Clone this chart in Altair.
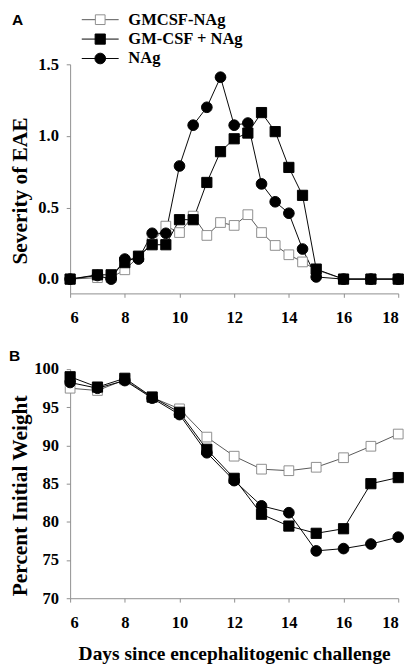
import altair as alt
import pandas as pd

groups = ["GMCSF-NAg", "GM-CSF + NAg", "NAg"]
legend_rows = [0, 1, 2]
panel_labels = ["A", "B"]

days_a = [6, 7, 7.5, 8, 8.5, 9, 9.5, 10, 10.5, 11, 11.5, 12, 12.5, 13, 13.5, 14, 14.5, 15, 16, 17, 18]
eae_gmcsf_nag = [0, 0.01, 0.01, 0.065, 0.155, 0.255, 0.37, 0.325, 0.44, 0.305, 0.395, 0.375,
                 0.45, 0.325, 0.235, 0.17, 0.12, 0.065, 0, 0, 0]
eae_gm_csf_plus_nag = [0, 0.03, 0.03, 0.115, 0.16, 0.24, 0.24, 0.415, 0.415, 0.675, 0.89, 0.98,
                       1.02, 1.163, 1.03, 0.78, 0.585, 0.07, 0, 0, 0]
eae_nag = [0, 0.025, 0, 0.14, 0.14, 0.32, 0.32, 0.79, 1.075, 1.2, 1.41, 1.075,
           1.09, 0.665, 0.54, 0.46, 0.21, 0.015, 0, 0, 0]

days_b = [6, 7, 8, 9, 10, 11, 12, 13, 14, 15, 16, 17, 18]
wt_gmcsf_nag = [97.5, 97.2, 98.6, 96.3, 94.8, 91.1, 88.6, 86.9, 86.7, 87.15, 88.4, 89.9, 91.5]
wt_gm_csf_plus_nag = [99.0, 97.65, 98.8, 96.35, 94.35, 89.5, 85.7, 81.0, 79.45, 78.5, 79.1, 85.0, 85.8]
wt_nag = [98.25, 97.5, 98.5, 96.2, 94.05, 89.05, 85.4, 82.1, 81.2, 76.2, 76.5, 77.1, 78.0]

x_ticks = [6, 8, 10, 12, 14, 16, 18]
eae_ticks = [0, 0.5, 1.0, 1.5]
wt_ticks = [70, 75, 80, 85, 90, 95, 100]


def long_df(days, series):
    rows = []
    for g, vals in zip(groups, series):
        for d, v in zip(days, vals):
            rows.append({"day": d, "value": v, "group": g})
    return pd.DataFrame(rows)


df_a = long_df(days_a, [eae_gmcsf_nag, eae_gm_csf_plus_nag, eae_nag])
df_b = long_df(days_b, [wt_gmcsf_nag, wt_gm_csf_plus_nag, wt_nag])

line_col = alt.Scale(domain=groups, range=["#555555", "#000000", "#000000"])
fill_sc = alt.Scale(domain=groups, range=["#ffffff", "#000000", "#000000"])
stroke_sc = alt.Scale(domain=groups, range=["#8c8c8c", "#000000", "#000000"])
shape_sc = alt.Scale(domain=groups, range=["square", "square", "circle"])
size_sc = alt.Scale(domain=groups, range=[100, 121, 169])

W, H = 338, 236


def data_layer(df, ydomain, yticks, yfmt, ytitle, xaxis):
    y = alt.Y("value:Q", scale=alt.Scale(domain=ydomain, nice=False, zero=False),
              axis=alt.Axis(values=yticks, format=yfmt, title=ytitle, titleFontSize=22,
                            titleX=-40, titleY=130, titleBaseline="bottom", titleAngle=270,
                            labelPadding=8))
    x = alt.X("day:Q", scale=alt.Scale(domain=[6, 18], nice=False), axis=xaxis)
    lines = alt.Chart(df).mark_line(strokeWidth=1).encode(
        x=x, y=y, color=alt.Color("group:N", scale=line_col, legend=None))
    pts = alt.Chart(df).mark_point(filled=True, opacity=1, strokeWidth=1).encode(
        x=x, y=y,
        fill=alt.Fill("group:N", scale=fill_sc, legend=None),
        stroke=alt.Stroke("group:N", scale=stroke_sc, legend=None),
        shape=alt.Shape("group:N", scale=shape_sc, legend=None),
        size=alt.Size("group:N", scale=size_sc, legend=None),
    )
    return alt.layer(lines, pts)


axis_a = alt.Axis(values=x_ticks, format="d", title=None, labelPadding=13)
axis_b = alt.Axis(values=x_ticks, format="d", title="Days since encephalitogenic challenge",
                  titleFontSize=20, labelPadding=13, titlePadding=14)

# legend drawn above panel A, rows on their own (hidden) scale
leg_df = pd.DataFrame({"group": groups, "row": legend_rows})
ly = alt.Y("row:Q", scale=alt.Scale(domain=[0, 2], range=[-46, -6], nice=False, zero=False), axis=None)
leg_rule = alt.Chart(leg_df).mark_rule(strokeWidth=1).encode(
    x=alt.value(12), x2=alt.value(50), y=ly,
    color=alt.Color("group:N", scale=line_col, legend=None))
leg_pts = alt.Chart(leg_df).mark_point(filled=True, opacity=1, strokeWidth=1).encode(
    x=alt.value(31), y=ly,
    fill=alt.Fill("group:N", scale=fill_sc, legend=None),
    stroke=alt.Stroke("group:N", scale=stroke_sc, legend=None),
    shape=alt.Shape("group:N", scale=shape_sc, legend=None),
    size=alt.Size("group:N", scale=size_sc, legend=None),
)
leg_txt = alt.Chart(leg_df).mark_text(align="left", baseline="middle", font="Liberation Serif",
                                      fontWeight="bold", fontSize=17, color="black").encode(
    x=alt.value(60), y=ly, text="group:N")
lab_df = pd.DataFrame({"lab": [panel_labels[0]]})
lab_a = alt.Chart(lab_df).mark_text(align="left", baseline="top", font="Liberation Sans",
                                    fontWeight="bold", fontSize=16, color="black").encode(
    x=alt.value(-60), y=alt.value(-53), text="lab:N")
legend_layer = alt.layer(leg_rule, leg_pts, leg_txt, lab_a)

chart_a = alt.layer(
    data_layer(df_a, [-0.1, 1.5], eae_ticks, ".1f", "Severity of EAE", axis_a),
    legend_layer,
).resolve_scale(y="independent").properties(width=W, height=H)

chart_b = data_layer(df_b, [70, 100], wt_ticks, "d", "Percent Initial Weight", axis_b).properties(
    width=W, height=H,
    title=alt.TitleParams(panel_labels[1], anchor="start", frame="bounds", offset=-4,
                          font="Liberation Sans", fontSize=16, fontWeight="bold", color="black"))

chart = alt.vconcat(chart_a, chart_b, spacing=24).properties(
    padding={"left": 0, "top": -7, "right": 0, "bottom": 0}
).configure_axis(
    labelFont="Liberation Serif", labelFontWeight="bold", labelFontSize=17, labelColor="black",
    titleFont="Liberation Serif", titleFontWeight="bold", titleColor="black",
    domainColor="#8c8c8c", tickColor="#8c8c8c", tickSize=4, grid=False
).configure_view(strokeWidth=0)

chart.save("out.html", embed_options={"renderer": "svg", "actions": False})
